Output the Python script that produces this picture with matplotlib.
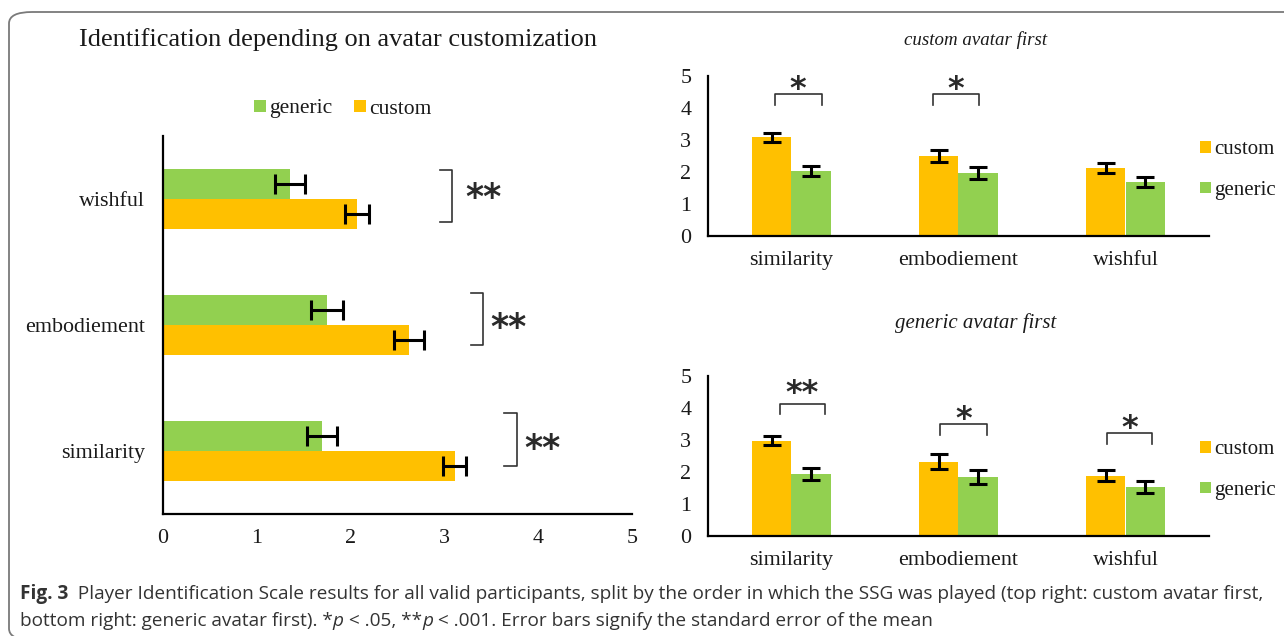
import matplotlib
matplotlib.use("Agg")
import matplotlib.pyplot as plt
from matplotlib.patches import Patch, FancyBboxPatch
import numpy as np

# ---------------- data ----------------
categories = ["similarity", "embodiement", "wishful"]

all_custom = [3.11, 2.62, 2.07]
all_custom_err = [0.12, 0.16, 0.13]
all_generic = [1.70, 1.75, 1.35]
all_generic_err = [0.16, 0.17, 0.16]
all_sig = ["**", "**", "**"]

cf_custom = [3.09, 2.50, 2.12]
cf_custom_err = [0.14, 0.19, 0.15]
cf_generic = [2.04, 1.97, 1.68]
cf_generic_err = [0.16, 0.19, 0.16]
cf_sig = ["*", "*", ""]

gf_custom = [2.98, 2.32, 1.89]
gf_custom_err = [0.15, 0.23, 0.18]
gf_generic = [1.94, 1.84, 1.53]
gf_generic_err = [0.19, 0.23, 0.18]
gf_sig = ["**", "*", "*"]

left_title = "Identification depending on avatar customization"
top_title = "custom avatar first"
bottom_title = "generic avatar first"
x_ticks = [0, 1, 2, 3, 4, 5]

caption_bold = "Fig. 3"
caption_line1 = "  Player Identification Scale results for all valid participants, split by the order in which the SSG was played (top right: custom avatar first,"

ORANGE = "#FFC000"
GREEN = "#92D050"
TXT = "#1a1a1a"

W, H = 1284, 636
plt.rcParams["font.family"] = ["Liberation Serif", "DejaVu Serif"]
fig = plt.figure(figsize=(W / 100, H / 100), dpi=100)


def fx(px):
    return px / W


def fy(py):
    return 1 - py / H


# outer rounded frame
frame = FancyBboxPatch((fx(9), fy(640)), fx(1320) - fx(9), fy(12) - fy(640),
                       boxstyle="round,pad=0,rounding_size=0.018",
                       transform=fig.transFigure, fill=False,
                       edgecolor="#7a7a7a", linewidth=1.3, clip_on=False)
fig.patches.append(frame)

TICKFS = 15.8
STARCOL = "#2a2a2a"

# ---------------- left horizontal bar chart ----------------
axL = fig.add_axes([fx(163), fy(514), fx(632) - fx(163), (514 - 136) / H])
y = np.arange(len(categories))
bh = 0.238
axL.barh(y + bh / 2, all_generic, height=bh, color=GREEN, label="generic")
axL.barh(y - bh / 2, all_custom, height=bh, color=ORANGE, label="custom")
axL.errorbar(all_generic, y + bh / 2, xerr=all_generic_err, fmt="none",
             ecolor="black", elinewidth=2.2, capsize=7, capthick=2.2)
axL.errorbar(all_custom, y - bh / 2, xerr=all_custom_err, fmt="none",
             ecolor="black", elinewidth=2.2, capsize=7, capthick=2.2)
axL.set_xlim(0, 5)
axL.set_ylim(-0.5, 2.5)
axL.set_xticks(x_ticks)
axL.set_yticks(y)
axL.set_yticklabels(categories)
axL.tick_params(axis="both", length=0, labelsize=TICKFS, colors=TXT)
axL.tick_params(axis="x", pad=11)
axL.tick_params(axis="y", pad=13)
for s in ["top", "right"]:
    axL.spines[s].set_visible(False)
for s in ["left", "bottom"]:
    axL.spines[s].set_linewidth(1.6)
    axL.spines[s].set_color("black")

# significance brackets (left chart)
br_x = [3.77, 3.41, 3.08]
br_top = [0.30, 0.254, 0.23]
br_bot = [-0.12, -0.159, -0.18]
star_x = [4.05, 3.68, 3.42]
star_y = [0.07, 0.03, 0.06]
LSTAR = 25
for i, lab in enumerate(all_sig):
    xb = br_x[i]
    axL.plot([xb - 0.13, xb, xb, xb - 0.13],
             [i + br_top[i], i + br_top[i], i + br_bot[i], i + br_bot[i]],
             color="#333333", lw=1.2, clip_on=False)
    axL.annotate(lab, (star_x[i], i + star_y[i]), xytext=(0, -0.48 * LSTAR),
                 textcoords="offset points", ha="center", va="baseline",
                 fontsize=LSTAR, family="DejaVu Sans", weight="bold",
                 color=STARCOL, annotation_clip=False)

leg = fig.legend(handles=[Patch(facecolor=GREEN, label="generic"),
                          Patch(facecolor=ORANGE, label="custom")],
                 loc="center", bbox_to_anchor=(fx(343), fy(109)), ncol=2,
                 frameon=False, fontsize=15.5, handlelength=0.55,
                 handleheight=0.5, handletextpad=0.15, columnspacing=1.0,
                 borderpad=0, labelcolor=TXT)

fig.text(fx(338), fy(40), left_title, ha="center", va="center",
         fontsize=19, color=TXT)


# ---------------- right vertical bar charts ----------------
RSTAR = 23


def right_chart(top_px, custom, custom_err, generic, generic_err, sig,
                br_specs, title, title_fs, title_y):
    ax = fig.add_axes([fx(708), fy(top_px + 160), fx(1209) - fx(708), 160 / H])
    x = np.arange(len(categories))
    bw = 0.235
    ax.bar(x - bw / 2, custom, width=bw, color=ORANGE, label="custom")
    ax.bar(x + bw / 2, generic, width=bw, color=GREEN, label="generic")
    ax.errorbar(x - bw / 2, custom, yerr=custom_err, fmt="none", ecolor="black",
                elinewidth=2.2, capsize=6.5, capthick=2.2)
    ax.errorbar(x + bw / 2, generic, yerr=generic_err, fmt="none",
                ecolor="black", elinewidth=2.2, capsize=6.5, capthick=2.2)
    ax.set_xlim(-0.5, 2.5)
    ax.set_ylim(0, 5)
    ax.set_yticks([0, 1, 2, 3, 4, 5])
    ax.set_xticks(x)
    ax.set_xticklabels(categories)
    ax.tick_params(axis="both", length=0, labelsize=TICKFS, colors=TXT)
    ax.tick_params(axis="y", pad=12)
    ax.tick_params(axis="x", pad=11)
    for s in ["top", "right"]:
        ax.spines[s].set_visible(False)
    for s in ["left", "bottom"]:
        ax.spines[s].set_linewidth(1.6)
        ax.spines[s].set_color("black")
    for i, lab in enumerate(sig):
        if not lab:
            continue
        a, b, ytop, yleg, ystar = br_specs[i]
        ax.plot([i + a, i + a, i + b, i + b], [yleg, ytop, ytop, yleg],
                color="#333333", lw=1.2, clip_on=False)
        ax.annotate(lab, (i + (a + b) / 2, ystar), xytext=(0, -0.48 * RSTAR),
                    textcoords="offset points", ha="center", va="baseline",
                    fontsize=RSTAR, family="DejaVu Sans", weight="bold",
                    color=STARCOL, annotation_clip=False)
    ax.legend(loc="center left", bbox_to_anchor=(fx(1200), fy(top_px + 94)),
              bbox_transform=fig.transFigure, frameon=False, fontsize=15,
              handlelength=0.55, handleheight=0.5, handletextpad=0.15,
              labelspacing=1.05, borderpad=0, borderaxespad=0, labelcolor=TXT)
    fig.text(fx(976), fy(title_y), title, ha="center", va="center",
             fontsize=title_fs, style="italic", color=TXT)
    return ax


right_chart(76, cf_custom, cf_custom_err, cf_generic, cf_generic_err, cf_sig,
            [(-0.10, 0.18, 4.44, 4.09, 4.79), (-0.15, 0.12, 4.44, 4.09, 4.79), None],
            top_title, 13.6, 40)
right_chart(376, gf_custom, gf_custom_err, gf_generic, gf_generic_err, gf_sig,
            [(-0.07, 0.20, 4.14, 3.80, 4.68), (-0.11, 0.17, 3.49, 3.16, 3.84),
             (-0.11, 0.16, 3.21, 2.87, 3.58)],
            bottom_title, 15, 323)

# ---------------- caption ----------------
CAPFS = 13.65
CAPCOL = "#333333"
renderer = fig.canvas.get_renderer()


def runs(x_px, y_px, parts):
    x = x_px
    for text, weight, style in parts:
        t = fig.text(fx(x), fy(y_px), text, ha="left", va="baseline",
                     fontsize=CAPFS, family=["Open Sans", "DejaVu Sans"],
                     weight=weight, style=style, color=CAPCOL)
        bb = t.get_window_extent(renderer=renderer)
        x += bb.width


runs(20, 599, [(caption_bold, "bold", "normal"),
               (caption_line1, "normal", "normal")])
runs(20, 626, [("bottom right: generic avatar first). *", "normal", "normal"),
               ("p", "normal", "italic"),
               (" < .05, **", "normal", "normal"),
               ("p", "normal", "italic"),
               (" < .001. Error bars signify the standard error of the mean",
                "normal", "normal")])

fig.savefig("out.png", dpi=100)
